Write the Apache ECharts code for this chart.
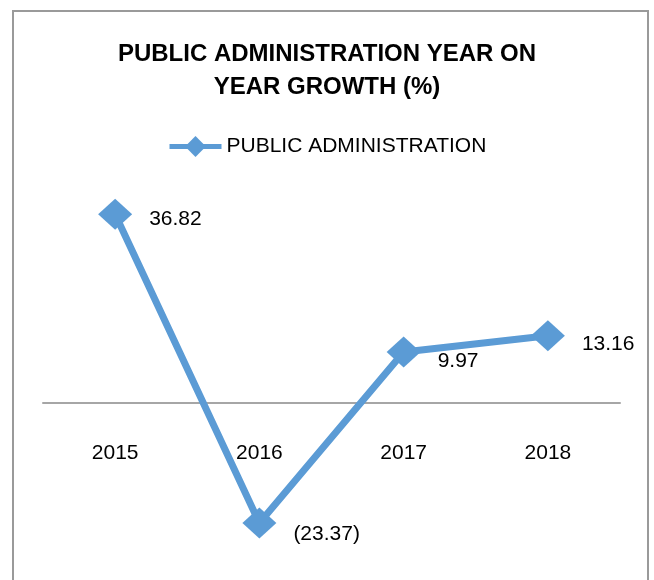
<!DOCTYPE html>
<html>
<head>
<meta charset="utf-8">
<script src="https://cdn.jsdelivr.net/npm/echarts@6/dist/echarts.min.js"></script>
<style>
  html, body { margin: 0; padding: 0; background: #ffffff; }
  #chart { width: 654px; height: 580px; }
</style>
</head>
<body>
<div id="chart"></div>
<script>
// Year-on-year growth of public administration (%)
const years = ['2015', '2016', '2017', '2018'];
const growth = [36.82, -23.37, 9.97, 13.16];
const labelShiftY = [5, 11, 9, 9];

const seriesName = 'PUBLIC ADMINISTRATION';
const blue = '#5B9BD5';
const textFont = "'Liberation Sans', Arial, sans-serif";

const chart = echarts.init(document.getElementById('chart'), null, { renderer: 'canvas' });

const fmt = v => v < 0 ? '(' + Math.abs(v).toFixed(2) + ')' : v.toFixed(2);

chart.setOption({
  backgroundColor: '#ffffff',
  animation: false,
  graphic: [{
    type: 'rect',
    shape: { x: 13, y: 11, width: 635, height: 620 },
    style: { fill: 'none', stroke: '#9a9a9a', lineWidth: 2 },
    z: -1
  }],
  title: {
    text: 'PUBLIC ADMINISTRATION YEAR ON\nYEAR GROWTH (%)',
    left: 'center',
    top: 33,
    textStyle: {
      fontFamily: textFont,
      fontWeight: 'bold',
      fontSize: 24,
      lineHeight: 33,
      color: '#000000'
    }
  },
  legend: {
    left: 162,
    top: 131,
    itemWidth: 52,
    itemHeight: 26,
    lineStyle: { width: 5 },
    textStyle: { fontFamily: textFont, fontSize: 21, color: '#000000' },
    data: [seriesName]
  },
  grid: { left: 43, right: 34, top: 198, bottom: 23, outerBoundsMode: 'none', containLabel: false },
  xAxis: {
    type: 'category',
    data: years,
    boundaryGap: true,
    axisLine: { onZero: false, lineStyle: { color: '#a6a6a6', width: 2 } },
    axisTick: { show: false },
    axisLabel: { margin: 40, fontFamily: textFont, fontSize: 21, color: '#000000' }
  },
  yAxis: {
    type: 'value',
    min: -30,
    max: 40,
    show: false,
    splitLine: { show: false }
  },
  series: [{
    name: seriesName,
    type: 'line',
    data: growth.map((v, i) => ({
      value: v,
      label: { offset: [0, labelShiftY[i]] }
    })),
    symbol: 'diamond',
    symbolSize: [34, 31],
    itemStyle: { color: blue },
    lineStyle: { color: blue, width: 7 },
    label: {
      show: true,
      position: 'right',
      distance: 17,
      fontFamily: textFont,
      fontSize: 21,
      color: '#000000',
      formatter: p => fmt(p.value)
    }
  }]
});

// Lift the category axis (line and labels together) up to the zero value
const zeroY = chart.convertToPixel({ yAxisIndex: 0 }, 0);
const bottomY = chart.convertToPixel({ yAxisIndex: 0 }, -30);
chart.setOption({ xAxis: { offset: zeroY - bottomY } });
</script>
</body>
</html>
